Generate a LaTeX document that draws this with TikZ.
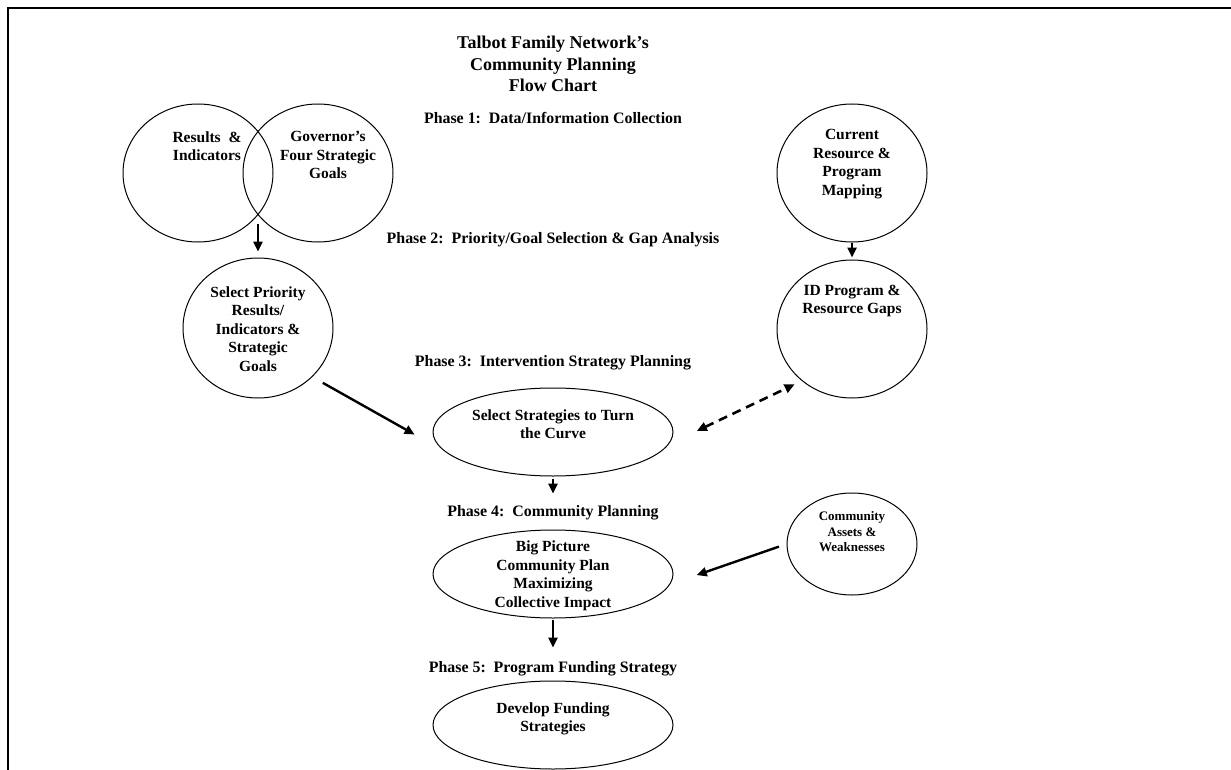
\documentclass[tikz,border=0pt]{standalone}
\usepackage{fontspec}
\setmainfont{Liberation Serif}
\usetikzlibrary{shapes.geometric, arrows.meta, calc}

\begin{document}
\begin{tikzpicture}[x=1pt, y=-1pt,
    circ/.style={draw, ellipse, line width=1pt, inner sep=0pt, minimum width=150pt, minimum height=138pt},
    oval/.style={draw, ellipse, line width=1pt, inner sep=0pt, minimum width=240pt, minimum height=88pt},
    txt/.style={align=center, inner sep=0pt, font=\bfseries\fontsize{15.5}{18.5}\selectfont},
    phase/.style={inner sep=0pt, font=\bfseries\fontsize{15.9}{19}\selectfont},
    arr/.style={-{Triangle[length=10pt, width=9pt]}, line width=2.4pt}]
    \useasboundingbox (0,0) rectangle (1231,770);

    % Marco
    \draw[line width=2.8pt] (7,8) -- (1231,8);
    \draw[line width=2.8pt] (8,8) -- (8,770);

    % Titulo y fases
    \node[align=center, inner sep=0pt, font=\bfseries\fontsize{18}{21.5}\selectfont] (title) at (553,64) {Talbot Family Network's\\Community Planning\\Flow Chart};
    \node[phase] (ph1) at (553,118) {Phase 1:\ \ Data/Information Collection};
    \node[phase] (ph2) at (553,240) {Phase 2:\ \ Priority/Goal Selection \& Gap Analysis};
    \node[phase] (ph3) at (553,363) {Phase 3:\ \ Intervention Strategy Planning};
    \node[phase] (ph4) at (553,513) {Phase 4:\ \ Community Planning};
    \node[phase] (ph5) at (553,669) {Phase 5:\ \ Program Funding Strategy};

    % Fase 1
    \node[circ] (resind) at (198,173) {};
    \node[circ] (govgoals) at (318,173) {};
    \node[txt] (resind-t) at (207,146) {Results\ \ \&\\Indicators};
    \node[txt] (govgoals-t) at (328,155) {Governor's\\Four Strategic\\Goals};
    \node[circ] (curres) at (852,173) {};
    \node[txt] (curres-t) at (852,164) {Current\\Resource \&\\Program\\Mapping};

    % Fase 2
    \node[circ, minimum height=140pt] (selpri) at (258,328) {};
    \node[txt] (selpri-t) at (258,329) {Select Priority\\Results/\\Indicators \&\\Strategic\\Goals};
    \node[circ] (idgap) at (852,329) {};
    \node[txt] (idgap-t) at (852,301) {ID Program \&\\Resource Gaps};

    % Fases 3 a 5
    \node[oval] (selstr) at (553,432) {};
    \node[txt] (selstr-t) at (553,424) {Select Strategies to Turn\\the Curve};
    \node[oval] (bigpic) at (553,574) {};
    \node[txt] (bigpic-t) at (553,576) {Big Picture\\Community Plan\\Maximizing\\Collective Impact};
    \node[oval] (devfund) at (553,725) {};
    \node[txt] (devfund-t) at (553,719) {Develop Funding\\Strategies};
    \node[circ, minimum width=130pt, minimum height=102pt] (comast) at (852,544) {};
    \node[txt, font=\bfseries\fontsize{13}{15.5}\selectfont] (comast-t) at (852,532) {Community\\Assets \&\\Weaknesses};

    % Flechas
    \coordinate (ovl) at (258,224);
    \draw[arr, shorten >=6pt] (ovl) -- (selpri.north);
    \draw[arr, shorten >=2pt] (curres) -- (idgap);
    \draw[arr, shorten <=12pt, shorten >=34pt] (selpri.-42) -- (selstr.190);
    \draw[{Triangle[length=10pt, width=9pt]}-{Triangle[length=10pt, width=9pt]}, line width=2.6pt, dash pattern=on 9pt off 6pt, shorten <=31pt, shorten >=8pt] (selstr.-6) -- (idgap.226);
    \draw[arr, shorten <=2pt, shorten >=12pt] (selstr) -- (ph4);
    \draw[arr, shorten <=1pt, shorten >=14pt] (bigpic) -- (ph5);
    \draw[arr, shorten <=8pt, shorten >=28pt] (comast.west) -- (bigpic.-5);
\end{tikzpicture}
\end{document}
